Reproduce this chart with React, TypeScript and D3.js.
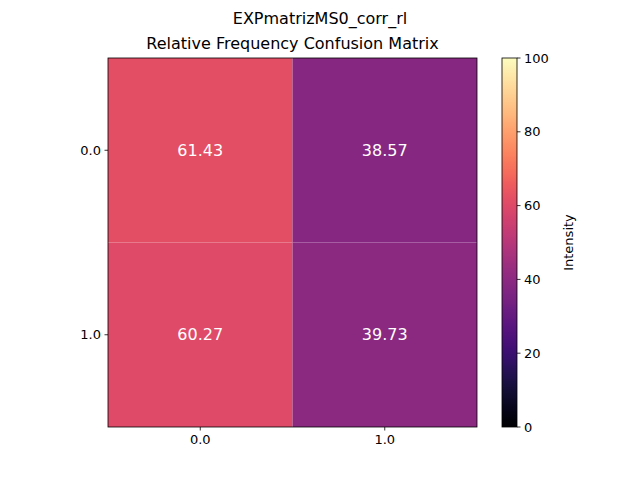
import * as d3 from "d3";

const rowLabels = ["0.0", "1.0"];
const colLabels = ["0.0", "1.0"];
const values = [
  [61.43, 38.57],
  [60.27, 39.73],
];
const cbTicks = [0, 20, 40, 60, 80, 100];

const App = () => {
  const W = 640, H = 480;
  const left = 108, right = 477, top = 58, bottom = 427;
  const x = d3.scaleBand().domain(colLabels).range([left, right]);
  const y = d3.scaleBand().domain(rowLabels).range([top, bottom]);
  const color = d3.scaleSequential(d3.interpolateMagma).domain([0, 100]);
  const cbX = 502, cbW = 15;
  const cbY = d3.scaleLinear().domain([0, 100]).range([bottom, top]);
  const stops = d3.range(0, 1.0001, 0.02);
  const font = "DejaVu Sans, sans-serif";

  return (
    <svg width={W} height={H} style={{ position: "absolute", left: 0, top: 0, background: "#fff" }} fontFamily={font}>
      <defs>
        <linearGradient id="cb" x1="0" y1="1" x2="0" y2="0">
          {stops.map((s) => (
            <stop key={s} offset={s} stopColor={d3.interpolateMagma(s)} />
          ))}
        </linearGradient>
      </defs>
      <text x={320} y={24} textAnchor="middle" fontSize={16}>EXPmatrizMS0_corr_rl</text>
      <text x={(left + right) / 2} y={49} textAnchor="middle" fontSize={16}>Relative Frequency Confusion Matrix</text>
      {values.map((row, i) =>
        row.map((v, j) => (
          <g key={`${i}-${j}`}>
            <rect x={x(colLabels[j])} y={y(rowLabels[i])} width={x.bandwidth()} height={y.bandwidth()} fill={color(v)} />
            <text x={x(colLabels[j])! + x.bandwidth() / 2} y={y(rowLabels[i])! + y.bandwidth() / 2} dy="0.35em" textAnchor="middle" fontSize={16} fill="#fff">
              {v.toFixed(2)}
            </text>
          </g>
        ))
      )}
      <rect x={left} y={top} width={right - left} height={bottom - top} fill="none" stroke="#000" strokeWidth={0.8} />
      {colLabels.map((c) => (
        <g key={c}>
          <line x1={x(c)! + x.bandwidth() / 2} x2={x(c)! + x.bandwidth() / 2} y1={bottom} y2={bottom + 3.5} stroke="#000" strokeWidth={0.8} />
          <text x={x(c)! + x.bandwidth() / 2} y={bottom + 17} textAnchor="middle" fontSize={13}>{c}</text>
        </g>
      ))}
      {rowLabels.map((r) => (
        <g key={r}>
          <line x1={left - 3.5} x2={left} y1={y(r)! + y.bandwidth() / 2} y2={y(r)! + y.bandwidth() / 2} stroke="#000" strokeWidth={0.8} />
          <text x={left - 7} y={y(r)! + y.bandwidth() / 2} dy="0.35em" textAnchor="end" fontSize={13}>{r}</text>
        </g>
      ))}
      <rect x={cbX} y={top} width={cbW} height={bottom - top} fill="url(#cb)" stroke="#000" strokeWidth={0.8} />
      {cbTicks.map((t) => (
        <g key={t}>
          <line x1={cbX + cbW} x2={cbX + cbW + 3.5} y1={cbY(t)} y2={cbY(t)} stroke="#000" strokeWidth={0.8} />
          <text x={cbX + cbW + 7} y={cbY(t)} dy="0.35em" fontSize={13}>{t}</text>
        </g>
      ))}
      <text transform={`translate(573,${(top + bottom) / 2}) rotate(-90)`} textAnchor="middle" fontSize={13}>Intensity</text>
    </svg>
  );
};

export default App;
